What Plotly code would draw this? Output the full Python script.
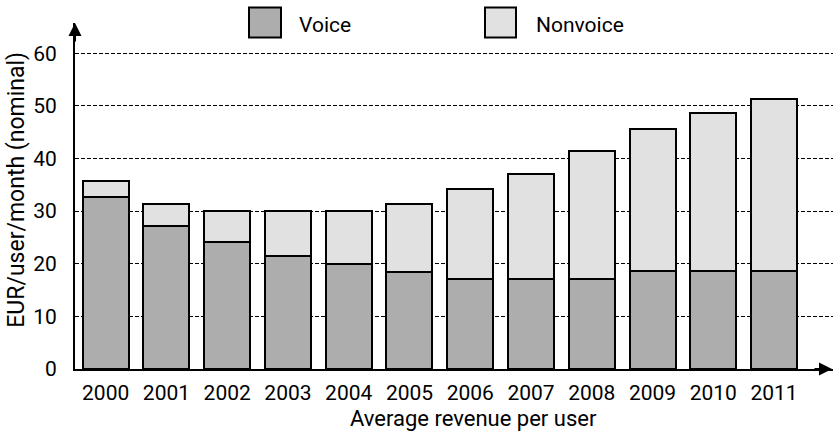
import plotly.graph_objects as go

years = ["2000", "2001", "2002", "2003", "2004", "2005",
         "2006", "2007", "2008", "2009", "2010", "2011"]
voice = [32.7, 27.1, 24.2, 21.4, 19.9, 18.5, 17.1, 17.1, 17.1, 18.6, 18.6, 18.6]
nonvoice = [3.0, 4.3, 5.8, 8.6, 10.1, 12.9, 17.2, 20.0, 24.4, 27.1, 30.0, 32.8]
y_ticks = [0, 10, 20, 30, 40, 50, 60]

VOICE_COLOR = "#adadad"
NONVOICE_COLOR = "#e1e1e1"
FONT = "Roboto, sans-serif"

def f(size):
    return dict(family=FONT, size=size, color="black")

fig = go.Figure()
fig.add_trace(go.Bar(x=years, y=voice, name="Voice",
                     marker=dict(color=VOICE_COLOR, line=dict(color="black", width=2))))
fig.add_trace(go.Bar(x=years, y=nonvoice, name="Nonvoice",
                     marker=dict(color=NONVOICE_COLOR, line=dict(color="black", width=2))))

W, H = 833, 433
L, R, T, B = 75, 0, 23, 63.5
pw = W - L - R
ph = H - T - B

def px_x(p):
    return (p - L) / pw

def px_y(p):
    return (H - B - p) / ph

fig.update_layout(
    width=W, height=H,
    barmode="stack",
    bargap=0.243,
    showlegend=False,
    plot_bgcolor="white",
    paper_bgcolor="white",
    margin=dict(l=L, r=R, t=T, b=B, pad=0),
    font=f(21),
    xaxis=dict(
        type="category",
        range=[-0.505, 11.97],
        showline=True, linecolor="black", linewidth=2,
        showgrid=False, zeroline=False,
        ticks="", ticklabelstandoff=4,
        tickfont=f(21),
    ),
    yaxis=dict(
        range=[0, 65.75],
        tickvals=y_ticks,
        showline=True, linecolor="black", linewidth=2,
        showgrid=True, gridcolor="black", gridwidth=1, griddash="4px,2px",
        zeroline=False,
        ticks="", ticklabelstandoff=12,
        tickfont=f(21),
    ),
)

shapes = []
annotations = []
for (x0, x1, color, label, tx) in [
    (249, 281, VOICE_COLOR, "Voice", 297),
    (485, 516, NONVOICE_COLOR, "Nonvoice", 534),
]:
    shapes.append(dict(type="rect", xref="paper", yref="paper",
                       x0=px_x(x0), x1=px_x(x1), y0=px_y(37.5), y1=px_y(7.5),
                       fillcolor=color, line=dict(color="black", width=2)))
    annotations.append(dict(xref="paper", yref="paper", x=px_x(tx), y=px_y(25),
                            text=label, showarrow=False, xanchor="left", yanchor="middle",
                            font=f(21)))

annotations.append(dict(xref="paper", yref="paper", x=px_x(473), y=px_y(419.5),
                        text="Average revenue per user", showarrow=False,
                        xanchor="center", yanchor="middle", font=f(22)))
annotations.append(dict(xref="paper", yref="paper", x=px_x(17), y=px_y(190),
                        text="EUR/user/month (nominal)", showarrow=False, textangle=-90,
                        xanchor="center", yanchor="middle", font=f(23)))

annotations.append(dict(xref="paper", yref="paper", x=0, y=1, ax=0, ay=20,
                        axref="pixel", ayref="pixel", showarrow=True, arrowhead=2,
                        arrowsize=1.3, arrowwidth=2, arrowcolor="black", text=""))
annotations.append(dict(xref="paper", yref="paper", x=1, y=0, ax=-20, ay=0,
                        axref="pixel", ayref="pixel", showarrow=True, arrowhead=2,
                        arrowsize=1.3, arrowwidth=2, arrowcolor="black", text=""))

fig.update_layout(shapes=shapes, annotations=annotations)
fig.write_html("out.html")
